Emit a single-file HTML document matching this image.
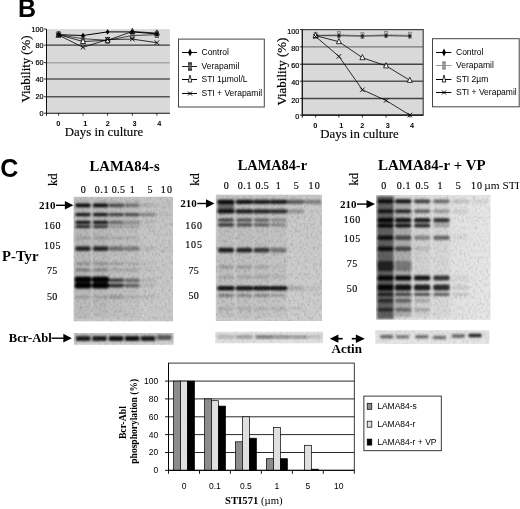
<!DOCTYPE html>
<html><head><meta charset="utf-8"><title>Figure</title>
<style>html,body{margin:0;padding:0;background:#fff;width:520px;height:509px;overflow:hidden}svg{display:block;will-change:transform}</style>
</head><body>
<svg width="520" height="509" viewBox="0 0 520 509">
<rect width="520" height="509" fill="#fff"/>
<text x="18.1" y="17.1" font-family="Liberation Sans, sans-serif" font-size="25" font-weight="bold" text-anchor="start" fill="#000" >B</text>
<rect x="46.5" y="29.1" width="123.4" height="84.1" fill="#d9d9d9"/>
<line x1="46.5" y1="45.1" x2="169.9" y2="45.1" stroke="#111" stroke-width="1"/>
<line x1="46.5" y1="62.7" x2="169.9" y2="62.7" stroke="#a8a8a8" stroke-width="1.4"/>
<line x1="46.5" y1="79.0" x2="169.9" y2="79.0" stroke="#555" stroke-width="1.6"/>
<line x1="46.5" y1="96.8" x2="169.9" y2="96.8" stroke="#555" stroke-width="1.6"/>
<line x1="46.5" y1="29.1" x2="46.5" y2="115.7" stroke="#111" stroke-width="1"/>
<line x1="46.5" y1="113.2" x2="169.9" y2="113.2" stroke="#111" stroke-width="1.1"/>
<line x1="44.0" y1="29.1" x2="46.5" y2="29.1" stroke="#000" stroke-width="0.8"/>
<text x="43.5" y="31.6" font-family="Liberation Sans, sans-serif" font-size="7.2" text-anchor="end" fill="#000" stroke="#000" stroke-width="0.2" >100</text>
<line x1="44.0" y1="45.1" x2="46.5" y2="45.1" stroke="#000" stroke-width="0.8"/>
<text x="43.5" y="47.6" font-family="Liberation Sans, sans-serif" font-size="7.2" text-anchor="end" fill="#000" stroke="#000" stroke-width="0.2" >80</text>
<line x1="44.0" y1="62.7" x2="46.5" y2="62.7" stroke="#000" stroke-width="0.8"/>
<text x="43.5" y="65.2" font-family="Liberation Sans, sans-serif" font-size="7.2" text-anchor="end" fill="#000" stroke="#000" stroke-width="0.2" >60</text>
<line x1="44.0" y1="79.0" x2="46.5" y2="79.0" stroke="#000" stroke-width="0.8"/>
<text x="43.5" y="81.5" font-family="Liberation Sans, sans-serif" font-size="7.2" text-anchor="end" fill="#000" stroke="#000" stroke-width="0.2" >40</text>
<line x1="44.0" y1="96.8" x2="46.5" y2="96.8" stroke="#000" stroke-width="0.8"/>
<text x="43.5" y="99.3" font-family="Liberation Sans, sans-serif" font-size="7.2" text-anchor="end" fill="#000" stroke="#000" stroke-width="0.2" >20</text>
<line x1="44.0" y1="113.2" x2="46.5" y2="113.2" stroke="#000" stroke-width="0.8"/>
<text x="43.5" y="115.7" font-family="Liberation Sans, sans-serif" font-size="7.2" text-anchor="end" fill="#000" stroke="#000" stroke-width="0.2" >0</text>
<line x1="58.6" y1="113.2" x2="58.6" y2="115.7" stroke="#000" stroke-width="0.8"/>
<text x="58.2" y="125.8" font-family="Liberation Sans, sans-serif" font-size="7.3" font-weight="bold" text-anchor="middle" fill="#000" >0</text>
<line x1="83.0" y1="113.2" x2="83.0" y2="115.7" stroke="#000" stroke-width="0.8"/>
<text x="85.3" y="125.8" font-family="Liberation Sans, sans-serif" font-size="7.3" font-weight="bold" text-anchor="middle" fill="#000" >1</text>
<line x1="107.6" y1="113.2" x2="107.6" y2="115.7" stroke="#000" stroke-width="0.8"/>
<text x="107.9" y="125.8" font-family="Liberation Sans, sans-serif" font-size="7.3" font-weight="bold" text-anchor="middle" fill="#000" >2</text>
<line x1="132.3" y1="113.2" x2="132.3" y2="115.7" stroke="#000" stroke-width="0.8"/>
<text x="134.6" y="125.8" font-family="Liberation Sans, sans-serif" font-size="7.3" font-weight="bold" text-anchor="middle" fill="#000" >3</text>
<line x1="156.9" y1="113.2" x2="156.9" y2="115.7" stroke="#000" stroke-width="0.8"/>
<text x="159.2" y="125.8" font-family="Liberation Sans, sans-serif" font-size="7.3" font-weight="bold" text-anchor="middle" fill="#000" >4</text>
<polyline points="58.6,34.7 83.0,38.7 107.6,40.3 132.3,35.5 156.9,34.7" fill="none" stroke="#333" stroke-width="0.9"/>
<rect x="56.800000000000004" y="31.700000000000003" width="3.6" height="6.0" fill="#888" stroke="#444" stroke-width="0.6"/>
<line x1="56.800000000000004" y1="34.7" x2="60.4" y2="34.7" stroke="#333" stroke-width="0.6"/>
<rect x="81.2" y="35.7" width="3.6" height="6.0" fill="#888" stroke="#444" stroke-width="0.6"/>
<line x1="81.2" y1="38.7" x2="84.8" y2="38.7" stroke="#333" stroke-width="0.6"/>
<rect x="105.8" y="37.3" width="3.6" height="6.0" fill="#888" stroke="#444" stroke-width="0.6"/>
<line x1="105.8" y1="40.3" x2="109.39999999999999" y2="40.3" stroke="#333" stroke-width="0.6"/>
<rect x="130.5" y="32.5" width="3.6" height="6.0" fill="#888" stroke="#444" stroke-width="0.6"/>
<line x1="130.5" y1="35.5" x2="134.10000000000002" y2="35.5" stroke="#333" stroke-width="0.6"/>
<rect x="155.1" y="31.700000000000003" width="3.6" height="6.0" fill="#888" stroke="#444" stroke-width="0.6"/>
<line x1="155.1" y1="34.7" x2="158.70000000000002" y2="34.7" stroke="#333" stroke-width="0.6"/>
<polyline points="58.6,34.7 83.0,41.5 107.6,40.3 132.3,31.5 156.9,33.1" fill="none" stroke="#000" stroke-width="0.8"/>
<path d="M58.6 31.500000000000004L61.1 36.7L56.1 36.7Z" fill="#fff" stroke="#000" stroke-width="0.8"/>
<path d="M83.0 38.3L85.5 43.5L80.5 43.5Z" fill="#fff" stroke="#000" stroke-width="0.8"/>
<path d="M107.6 37.099999999999994L110.1 42.3L105.1 42.3Z" fill="#fff" stroke="#000" stroke-width="0.8"/>
<path d="M132.3 28.3L134.8 33.5L129.8 33.5Z" fill="#fff" stroke="#000" stroke-width="0.8"/>
<path d="M156.9 29.900000000000002L159.4 35.1L154.4 35.1Z" fill="#fff" stroke="#000" stroke-width="0.8"/>
<polyline points="58.6,35.1 83.0,47.3 107.6,39.5 132.3,39.1 156.9,42.7" fill="none" stroke="#000" stroke-width="0.8"/>
<path d="M56.300000000000004 32.800000000000004L60.9 37.4M60.9 32.800000000000004L56.300000000000004 37.4" stroke="#000" stroke-width="0.9"/>
<path d="M80.7 45.00000000000001L85.3 49.6M85.3 45.00000000000001L80.7 49.6" stroke="#000" stroke-width="0.9"/>
<path d="M105.3 37.2L109.89999999999999 41.8M109.89999999999999 37.2L105.3 41.8" stroke="#000" stroke-width="0.9"/>
<path d="M130.0 36.800000000000004L134.60000000000002 41.4M134.60000000000002 36.800000000000004L130.0 41.4" stroke="#000" stroke-width="0.9"/>
<path d="M154.6 40.400000000000006L159.20000000000002 45.0M159.20000000000002 40.400000000000006L154.6 45.0" stroke="#000" stroke-width="0.9"/>
<polyline points="58.6,34.7 83.0,35.5 107.6,31.9 132.3,31.9 156.9,33.9" fill="none" stroke="#000" stroke-width="1.0"/>
<path d="M58.6 32.0L60.5 34.7L58.6 37.400000000000006L56.7 34.7Z" fill="#000"/>
<path d="M83.0 32.8L84.9 35.5L83.0 38.2L81.1 35.5Z" fill="#000"/>
<path d="M107.6 29.200000000000003L109.5 31.900000000000002L107.6 34.6L105.69999999999999 31.900000000000002Z" fill="#000"/>
<path d="M132.3 29.200000000000003L134.20000000000002 31.900000000000002L132.3 34.6L130.4 31.900000000000002Z" fill="#000"/>
<path d="M156.9 31.2L158.8 33.9L156.9 36.6L155.0 33.9Z" fill="#000"/>
<rect x="302.3" y="29.6" width="120.89999999999998" height="85.5" fill="#d9d9d9"/>
<line x1="302.3" y1="46.9" x2="423.2" y2="46.9" stroke="#777" stroke-width="1.4"/>
<line x1="302.3" y1="64.2" x2="423.2" y2="64.2" stroke="#444" stroke-width="1.4"/>
<line x1="302.3" y1="81.2" x2="423.2" y2="81.2" stroke="#555" stroke-width="1.4"/>
<line x1="302.3" y1="98.5" x2="423.2" y2="98.5" stroke="#444" stroke-width="1.4"/>
<rect x="302.3" y="29.6" width="120.89999999999998" height="85.5" fill="none" stroke="#444" stroke-width="1.2"/>
<line x1="302.3" y1="29.6" x2="302.3" y2="117.6" stroke="#111" stroke-width="1"/>
<line x1="302.3" y1="115.1" x2="423.2" y2="115.1" stroke="#111" stroke-width="1.1"/>
<line x1="299.8" y1="29.6" x2="302.3" y2="29.6" stroke="#000" stroke-width="0.8"/>
<text x="299.3" y="33.6" font-family="Liberation Sans, sans-serif" font-size="7.2" text-anchor="end" fill="#000" stroke="#000" stroke-width="0.2" >100</text>
<line x1="299.8" y1="46.9" x2="302.3" y2="46.9" stroke="#000" stroke-width="0.8"/>
<text x="299.3" y="50.9" font-family="Liberation Sans, sans-serif" font-size="7.2" text-anchor="end" fill="#000" stroke="#000" stroke-width="0.2" >80</text>
<line x1="299.8" y1="64.2" x2="302.3" y2="64.2" stroke="#000" stroke-width="0.8"/>
<text x="299.3" y="68.2" font-family="Liberation Sans, sans-serif" font-size="7.2" text-anchor="end" fill="#000" stroke="#000" stroke-width="0.2" >60</text>
<line x1="299.8" y1="81.2" x2="302.3" y2="81.2" stroke="#000" stroke-width="0.8"/>
<text x="299.3" y="85.2" font-family="Liberation Sans, sans-serif" font-size="7.2" text-anchor="end" fill="#000" stroke="#000" stroke-width="0.2" >40</text>
<line x1="299.8" y1="98.5" x2="302.3" y2="98.5" stroke="#000" stroke-width="0.8"/>
<text x="299.3" y="102.5" font-family="Liberation Sans, sans-serif" font-size="7.2" text-anchor="end" fill="#000" stroke="#000" stroke-width="0.2" >20</text>
<line x1="299.8" y1="115.1" x2="302.3" y2="115.1" stroke="#000" stroke-width="0.8"/>
<text x="299.3" y="119.1" font-family="Liberation Sans, sans-serif" font-size="7.2" text-anchor="end" fill="#000" stroke="#000" stroke-width="0.2" >0</text>
<line x1="315.6" y1="115.1" x2="315.6" y2="117.6" stroke="#000" stroke-width="0.8"/>
<text x="315.3" y="127.69999999999999" font-family="Liberation Sans, sans-serif" font-size="7.3" font-weight="bold" text-anchor="middle" fill="#000" >0</text>
<line x1="338.9" y1="115.1" x2="338.9" y2="117.6" stroke="#000" stroke-width="0.8"/>
<text x="341.2" y="127.69999999999999" font-family="Liberation Sans, sans-serif" font-size="7.3" font-weight="bold" text-anchor="middle" fill="#000" >1</text>
<line x1="362.4" y1="115.1" x2="362.4" y2="117.6" stroke="#000" stroke-width="0.8"/>
<text x="362.4" y="127.69999999999999" font-family="Liberation Sans, sans-serif" font-size="7.3" font-weight="bold" text-anchor="middle" fill="#000" >2</text>
<line x1="386.1" y1="115.1" x2="386.1" y2="117.6" stroke="#000" stroke-width="0.8"/>
<text x="387.8" y="127.69999999999999" font-family="Liberation Sans, sans-serif" font-size="7.3" font-weight="bold" text-anchor="middle" fill="#000" >3</text>
<line x1="409.8" y1="115.1" x2="409.8" y2="117.6" stroke="#000" stroke-width="0.8"/>
<text x="412.0" y="127.69999999999999" font-family="Liberation Sans, sans-serif" font-size="7.3" font-weight="bold" text-anchor="middle" fill="#000" >4</text>
<polyline points="315.6,35.2 338.9,34.4 362.4,35.7 386.1,34.4 409.8,35.2" fill="none" stroke="#888" stroke-width="0.9" stroke-dasharray="2,1"/>
<rect x="314.1" y="32.222500000000004" width="3.0" height="6.0" fill="#c8c8c8" stroke="#777" stroke-width="0.7"/>
<line x1="314.1" y1="35.222500000000004" x2="317.1" y2="35.222500000000004" stroke="#777" stroke-width="0.6"/>
<rect x="337.4" y="31.3575" width="3.0" height="6.0" fill="#c8c8c8" stroke="#777" stroke-width="0.7"/>
<line x1="337.4" y1="34.3575" x2="340.4" y2="34.3575" stroke="#777" stroke-width="0.6"/>
<rect x="360.9" y="32.655" width="3.0" height="6.0" fill="#c8c8c8" stroke="#777" stroke-width="0.7"/>
<line x1="360.9" y1="35.655" x2="363.9" y2="35.655" stroke="#777" stroke-width="0.6"/>
<rect x="384.6" y="31.3575" width="3.0" height="6.0" fill="#c8c8c8" stroke="#777" stroke-width="0.7"/>
<line x1="384.6" y1="34.3575" x2="387.6" y2="34.3575" stroke="#777" stroke-width="0.6"/>
<rect x="408.3" y="32.222500000000004" width="3.0" height="6.0" fill="#c8c8c8" stroke="#777" stroke-width="0.7"/>
<line x1="408.3" y1="35.222500000000004" x2="411.3" y2="35.222500000000004" stroke="#777" stroke-width="0.6"/>
<polyline points="315.6,35.7 338.9,35.7 362.4,36.1 386.1,35.7 409.8,36.1" fill="none" stroke="#222" stroke-width="0.9"/>
<path d="M315.6 33.055L317.20000000000005 35.655L315.6 38.255L314.0 35.655Z" fill="#222"/>
<path d="M338.9 33.055L340.5 35.655L338.9 38.255L337.29999999999995 35.655Z" fill="#222"/>
<path d="M362.4 33.4875L364.0 36.0875L362.4 38.6875L360.79999999999995 36.0875Z" fill="#222"/>
<path d="M386.1 33.055L387.70000000000005 35.655L386.1 38.255L384.5 35.655Z" fill="#222"/>
<path d="M409.8 33.4875L411.40000000000003 36.0875L409.8 38.6875L408.2 36.0875Z" fill="#222"/>
<polyline points="315.6,35.7 338.9,41.7 362.4,57.7 386.1,65.9 409.8,80.3" fill="none" stroke="#000" stroke-width="0.8"/>
<path d="M315.6 32.455L318.1 37.655L313.1 37.655Z" fill="#fff" stroke="#000" stroke-width="0.8"/>
<path d="M338.9 38.51L341.4 43.71L336.4 43.71Z" fill="#fff" stroke="#000" stroke-width="0.8"/>
<path d="M362.4 54.5125L364.9 59.712500000000006L359.9 59.712500000000006Z" fill="#fff" stroke="#000" stroke-width="0.8"/>
<path d="M386.1 62.7L388.6 67.9L383.6 67.9Z" fill="#fff" stroke="#000" stroke-width="0.8"/>
<path d="M409.8 77.14999999999999L412.3 82.35L407.3 82.35Z" fill="#fff" stroke="#000" stroke-width="0.8"/>
<polyline points="315.6,36.5 338.9,56.4 362.4,89.8 386.1,100.5 409.8,115.1" fill="none" stroke="#000" stroke-width="0.8"/>
<path d="M313.3 34.220000000000006L317.90000000000003 38.82M317.90000000000003 34.220000000000006L313.3 38.82" stroke="#000" stroke-width="0.9"/>
<path d="M336.59999999999997 54.115L341.2 58.714999999999996M341.2 54.115L336.59999999999997 58.714999999999996" stroke="#000" stroke-width="0.9"/>
<path d="M360.09999999999997 87.55L364.7 92.14999999999999M364.7 87.55L360.09999999999997 92.14999999999999" stroke="#000" stroke-width="0.9"/>
<path d="M383.8 98.19200000000001L388.40000000000003 102.792M388.40000000000003 98.19200000000001L383.8 102.792" stroke="#000" stroke-width="0.9"/>
<path d="M407.5 112.8L412.1 117.39999999999999M412.1 112.8L407.5 117.39999999999999" stroke="#000" stroke-width="0.9"/>
<text x="0" y="0" font-family="Liberation Serif, serif" font-size="13" text-anchor="middle" fill="#000" stroke="#000" stroke-width="0.2" transform="translate(30,69) rotate(-90)" textLength="67" lengthAdjust="spacingAndGlyphs">Viability (%)</text>
<text x="0" y="0" font-family="Liberation Serif, serif" font-size="13" text-anchor="middle" fill="#000" stroke="#000" stroke-width="0.2" transform="translate(286,71.6) rotate(-90)" textLength="68" lengthAdjust="spacingAndGlyphs">Viability (%)</text>
<text x="104" y="135.7" font-family="Liberation Serif, serif" font-size="13" text-anchor="middle" fill="#000" stroke="#000" stroke-width="0.15" textLength="78.3" lengthAdjust="spacingAndGlyphs">Days in culture</text>
<text x="359.5" y="137.7" font-family="Liberation Serif, serif" font-size="13" text-anchor="middle" fill="#000" stroke="#000" stroke-width="0.15" textLength="78.5" lengthAdjust="spacingAndGlyphs">Days in culture</text>
<rect x="178.5" y="39.1" width="85.80000000000001" height="67.9" fill="#fff" stroke="#444" stroke-width="1"/>
<line x1="182" y1="52.5" x2="197" y2="52.5" stroke="#000" stroke-width="1"/>
<path d="M190.0 48.5L192.0 52.5L190.0 56.5L188.0 52.5Z" fill="#000"/>
<text x="201.5" y="55.4" font-family="Liberation Sans, sans-serif" font-size="8.5" text-anchor="start" fill="#000" >Control</text>
<line x1="182" y1="66.5" x2="197" y2="66.5" stroke="#222" stroke-width="1"/>
<rect x="188.3" y="62.7" width="3.4" height="7.6" fill="#444" stroke="#222" stroke-width="0.6"/>
<line x1="188.3" y1="65.2" x2="191.7" y2="65.2" stroke="#ddd" stroke-width="0.5"/>
<line x1="188.3" y1="67.8" x2="191.7" y2="67.8" stroke="#ddd" stroke-width="0.5"/>
<text x="201.5" y="68.85" font-family="Liberation Sans, sans-serif" font-size="8.5" text-anchor="start" fill="#000" >Verapamil</text>
<line x1="182" y1="79.5" x2="197" y2="79.5" stroke="#000" stroke-width="1"/>
<path d="M190.0 75.0L191.8 82.0L188.2 82.0Z" fill="#fff" stroke="#000" stroke-width="0.8"/>
<text x="201.5" y="82.3" font-family="Liberation Sans, sans-serif" font-size="8.5" text-anchor="start" fill="#000" >STI 1µmol/L</text>
<line x1="182" y1="93.5" x2="197" y2="93.5" stroke="#000" stroke-width="1"/>
<path d="M188.0 91.5L192.0 95.5M192.0 91.5L188.0 95.5" stroke="#000" stroke-width="1"/>
<text x="201.5" y="95.75" font-family="Liberation Sans, sans-serif" font-size="8.5" text-anchor="start" fill="#000" >STI + Verapamil</text>
<rect x="432.5" y="38.7" width="86.70000000000005" height="68.1" fill="#fff" stroke="#444" stroke-width="1"/>
<line x1="436" y1="52.5" x2="451.4" y2="52.5" stroke="#000" stroke-width="1"/>
<path d="M444.0 48.5L446.0 52.5L444.0 56.5L442.0 52.5Z" fill="#000"/>
<text x="456" y="54.6" font-family="Liberation Sans, sans-serif" font-size="8.5" text-anchor="start" fill="#000" >Control</text>
<line x1="436" y1="65.5" x2="451.4" y2="65.5" stroke="#999" stroke-width="1"/>
<rect x="442.3" y="61.7" width="3.4" height="7.6" fill="#888" stroke="#999" stroke-width="0.6"/>
<line x1="442.3" y1="64.2" x2="445.7" y2="64.2" stroke="#ddd" stroke-width="0.5"/>
<line x1="442.3" y1="66.8" x2="445.7" y2="66.8" stroke="#ddd" stroke-width="0.5"/>
<text x="456" y="68.15" font-family="Liberation Sans, sans-serif" font-size="8.5" text-anchor="start" fill="#000" >Verapamil</text>
<line x1="436" y1="79.5" x2="451.4" y2="79.5" stroke="#000" stroke-width="1"/>
<path d="M444.0 75.0L445.8 82.0L442.2 82.0Z" fill="#fff" stroke="#000" stroke-width="0.8"/>
<text x="456" y="81.7" font-family="Liberation Sans, sans-serif" font-size="8.5" text-anchor="start" fill="#000" >STI 2µm</text>
<line x1="436" y1="92.5" x2="451.4" y2="92.5" stroke="#000" stroke-width="1"/>
<path d="M442.0 90.5L446.0 94.5M446.0 90.5L442.0 94.5" stroke="#000" stroke-width="1"/>
<text x="456" y="95.25" font-family="Liberation Sans, sans-serif" font-size="8.5" text-anchor="start" fill="#000" >STI + Verapamil</text>
<defs><filter id="bl" x="-20%" y="-20%" width="140%" height="140%"><feGaussianBlur stdDeviation="0.85 0.85"/></filter><filter id="nzd" x="0" y="0" width="100%" height="100%"><feTurbulence type="fractalNoise" baseFrequency="0.45 0.3" numOctaves="2" seed="7"/><feGaussianBlur stdDeviation="0.4"/><feColorMatrix type="matrix" values="0 0 0 0 0  0 0 0 0 0  0 0 0 0 0  2 0 0 0 -0.9"/></filter><filter id="nzl" x="0" y="0" width="100%" height="100%"><feTurbulence type="fractalNoise" baseFrequency="0.45 0.3" numOctaves="2" seed="19"/><feGaussianBlur stdDeviation="0.4"/><feColorMatrix type="matrix" values="0 0 0 0 1  0 0 0 0 1  0 0 0 0 1  2 0 0 0 -0.9"/></filter></defs>
<text x="0.2" y="177" font-family="Liberation Sans, sans-serif" font-size="25" font-weight="bold" text-anchor="start" fill="#000" >C</text>
<text x="124.6" y="170.8" font-family="Liberation Serif, serif" font-size="14.5" font-weight="bold" text-anchor="middle" fill="#000" textLength="70" lengthAdjust="spacingAndGlyphs">LAMA84-s</text>
<text x="272.4" y="169.8" font-family="Liberation Serif, serif" font-size="14.3" font-weight="bold" text-anchor="middle" fill="#000" textLength="69.2" lengthAdjust="spacingAndGlyphs">LAMA84-r</text>
<text x="431.8" y="170" font-family="Liberation Serif, serif" font-size="14.3" font-weight="bold" text-anchor="middle" fill="#000" textLength="107.5" lengthAdjust="spacingAndGlyphs">LAMA84-r + VP</text>
<text x="0" y="0" font-family="Liberation Serif, serif" font-size="12" text-anchor="middle" fill="#000" stroke="#000" stroke-width="0.15" transform="translate(57.0,179.7) rotate(-90)" textLength="12.6" lengthAdjust="spacingAndGlyphs">kd</text>
<text x="0" y="0" font-family="Liberation Serif, serif" font-size="12" text-anchor="middle" fill="#000" stroke="#000" stroke-width="0.15" transform="translate(198.9,179.4) rotate(-90)" textLength="12.6" lengthAdjust="spacingAndGlyphs">kd</text>
<text x="0" y="0" font-family="Liberation Serif, serif" font-size="12" text-anchor="middle" fill="#000" stroke="#000" stroke-width="0.15" transform="translate(358.3,179.2) rotate(-90)" textLength="12.6" lengthAdjust="spacingAndGlyphs">kd</text>
<text x="83.2" y="193.2" font-family="Liberation Serif, serif" font-size="10" text-anchor="middle" fill="#000" stroke="#000" stroke-width="0.15" >0</text>
<text x="101.9" y="193.2" font-family="Liberation Serif, serif" font-size="10" text-anchor="middle" fill="#000" stroke="#000" stroke-width="0.15" letter-spacing="0.6">0.1</text>
<text x="118.5" y="193.2" font-family="Liberation Serif, serif" font-size="10" text-anchor="middle" fill="#000" stroke="#000" stroke-width="0.15" letter-spacing="0.4">0.5</text>
<text x="132.3" y="193.2" font-family="Liberation Serif, serif" font-size="10" text-anchor="middle" fill="#000" stroke="#000" stroke-width="0.15" >1</text>
<text x="150.0" y="193.2" font-family="Liberation Serif, serif" font-size="10" text-anchor="middle" fill="#000" stroke="#000" stroke-width="0.15" >5</text>
<text x="166.9" y="193.2" font-family="Liberation Serif, serif" font-size="10" text-anchor="middle" fill="#000" stroke="#000" stroke-width="0.15" letter-spacing="1.2">10</text>
<text x="226.3" y="189.1" font-family="Liberation Serif, serif" font-size="10" text-anchor="middle" fill="#000" stroke="#000" stroke-width="0.15" >0</text>
<text x="244.9" y="189.1" font-family="Liberation Serif, serif" font-size="10" text-anchor="middle" fill="#000" stroke="#000" stroke-width="0.15" letter-spacing="0.6">0.1</text>
<text x="262.4" y="189.1" font-family="Liberation Serif, serif" font-size="10" text-anchor="middle" fill="#000" stroke="#000" stroke-width="0.15" letter-spacing="0.4">0.5</text>
<text x="278.2" y="189.1" font-family="Liberation Serif, serif" font-size="10" text-anchor="middle" fill="#000" stroke="#000" stroke-width="0.15" >1</text>
<text x="296.2" y="189.1" font-family="Liberation Serif, serif" font-size="10" text-anchor="middle" fill="#000" stroke="#000" stroke-width="0.15" >5</text>
<text x="314.7" y="189.1" font-family="Liberation Serif, serif" font-size="10" text-anchor="middle" fill="#000" stroke="#000" stroke-width="0.15" letter-spacing="1.2">10</text>
<text x="383.7" y="189.1" font-family="Liberation Serif, serif" font-size="10" text-anchor="middle" fill="#000" stroke="#000" stroke-width="0.15" >0</text>
<text x="404.0" y="189.1" font-family="Liberation Serif, serif" font-size="10" text-anchor="middle" fill="#000" stroke="#000" stroke-width="0.15" letter-spacing="0.6">0.1</text>
<text x="422.3" y="189.1" font-family="Liberation Serif, serif" font-size="10" text-anchor="middle" fill="#000" stroke="#000" stroke-width="0.15" letter-spacing="0.4">0.5</text>
<text x="440.0" y="189.1" font-family="Liberation Serif, serif" font-size="10" text-anchor="middle" fill="#000" stroke="#000" stroke-width="0.15" >1</text>
<text x="458.2" y="189.1" font-family="Liberation Serif, serif" font-size="10" text-anchor="middle" fill="#000" stroke="#000" stroke-width="0.15" >5</text>
<text x="477.1" y="189.1" font-family="Liberation Serif, serif" font-size="10" text-anchor="middle" fill="#000" stroke="#000" stroke-width="0.15" letter-spacing="1.2">10</text>
<text x="484.2" y="189.1" font-family="Liberation Serif, serif" font-size="10.5" text-anchor="start" fill="#000" textLength="35.2" lengthAdjust="spacingAndGlyphs">µm STI</text>
<text x="55.5" y="209.0" font-family="Liberation Serif, serif" font-size="11" font-weight="bold" text-anchor="end" fill="#000" >210</text>
<line x1="56.0" y1="205.3" x2="65.4" y2="205.3" stroke="#000" stroke-width="1.4"/>
<path d="M73.4 205.3L64.9 201.10000000000002L64.9 209.5Z" fill="#000"/>
<text x="52.6" y="229.3" font-family="Liberation Serif, serif" font-size="10" text-anchor="middle" fill="#000" stroke="#000" stroke-width="0.15" letter-spacing="0.8">160</text>
<text x="52.6" y="249.3" font-family="Liberation Serif, serif" font-size="10" text-anchor="middle" fill="#000" stroke="#000" stroke-width="0.15" letter-spacing="0.8">105</text>
<text x="52.35" y="274.1" font-family="Liberation Serif, serif" font-size="10" text-anchor="middle" fill="#000" stroke="#000" stroke-width="0.15" letter-spacing="0.3">75</text>
<text x="52.35" y="299.6" font-family="Liberation Serif, serif" font-size="10" text-anchor="middle" fill="#000" stroke="#000" stroke-width="0.15" letter-spacing="0.3">50</text>
<text x="196.8" y="207.2" font-family="Liberation Serif, serif" font-size="11" font-weight="bold" text-anchor="end" fill="#000" >210</text>
<line x1="197.3" y1="203.5" x2="206.5" y2="203.5" stroke="#000" stroke-width="1.4"/>
<path d="M214.5 203.5L206.0 199.3L206.0 207.7Z" fill="#000"/>
<text x="194.0" y="228.9" font-family="Liberation Serif, serif" font-size="10" text-anchor="middle" fill="#000" stroke="#000" stroke-width="0.15" letter-spacing="0.8">160</text>
<text x="194.0" y="247.8" font-family="Liberation Serif, serif" font-size="10" text-anchor="middle" fill="#000" stroke="#000" stroke-width="0.15" letter-spacing="0.8">105</text>
<text x="193.75" y="273.6" font-family="Liberation Serif, serif" font-size="10" text-anchor="middle" fill="#000" stroke="#000" stroke-width="0.15" letter-spacing="0.3">75</text>
<text x="193.75" y="299.1" font-family="Liberation Serif, serif" font-size="10" text-anchor="middle" fill="#000" stroke="#000" stroke-width="0.15" letter-spacing="0.3">50</text>
<text x="356.5" y="207.79999999999998" font-family="Liberation Serif, serif" font-size="11" font-weight="bold" text-anchor="end" fill="#000" >210</text>
<line x1="357.0" y1="204.1" x2="367.0" y2="204.1" stroke="#000" stroke-width="1.4"/>
<path d="M375 204.1L366.5 199.9L366.5 208.29999999999998Z" fill="#000"/>
<text x="352.4" y="222.6" font-family="Liberation Serif, serif" font-size="10" text-anchor="middle" fill="#000" stroke="#000" stroke-width="0.15" letter-spacing="0.8">160</text>
<text x="352.4" y="241.5" font-family="Liberation Serif, serif" font-size="10" text-anchor="middle" fill="#000" stroke="#000" stroke-width="0.15" letter-spacing="0.8">105</text>
<text x="352.15" y="266.7" font-family="Liberation Serif, serif" font-size="10" text-anchor="middle" fill="#000" stroke="#000" stroke-width="0.15" letter-spacing="0.3">75</text>
<text x="352.15" y="291.9" font-family="Liberation Serif, serif" font-size="10" text-anchor="middle" fill="#000" stroke="#000" stroke-width="0.15" letter-spacing="0.3">50</text>
<text x="2" y="260.8" font-family="Liberation Serif, serif" font-size="15" font-weight="bold" text-anchor="start" fill="#000" textLength="36.5" lengthAdjust="spacingAndGlyphs">P-Tyr</text>
<text x="8.8" y="342.1" font-family="Liberation Serif, serif" font-size="13" font-weight="bold" text-anchor="start" fill="#000" textLength="43" lengthAdjust="spacingAndGlyphs">Bcr-Abl</text>
<line x1="51.5" y1="338.2" x2="63.8" y2="338.2" stroke="#000" stroke-width="1.4"/>
<path d="M71.8 338.2L63.3 333.8L63.3 342.59999999999997Z" fill="#000"/>
<path d="M329.8 338.7L338.4 334.6L338.4 342.8Z" fill="#000"/><line x1="338" y1="338.7" x2="342.7" y2="338.7" stroke="#000" stroke-width="1.7"/>
<path d="M364.8 338.7L355.9 334.4L355.9 343Z" fill="#000"/><line x1="351.8" y1="338.7" x2="356.3" y2="338.7" stroke="#000" stroke-width="1.7"/>
<text x="346.7" y="353" font-family="Liberation Serif, serif" font-size="12.5" font-weight="bold" text-anchor="middle" fill="#000" textLength="30.5" lengthAdjust="spacingAndGlyphs">Actin</text>
<defs><linearGradient id="bg1" x1="0" y1="0" x2="0" y2="1"><stop offset="0" stop-color="#c4c4c4"/><stop offset="1" stop-color="#c9c9c9"/></linearGradient><clipPath id="cl1"><rect x="73.6" y="196.8" width="99.4" height="124.5"/></clipPath></defs>
<rect x="73.6" y="196.8" width="99.4" height="124.5" fill="url(#bg1)"/>
<g clip-path="url(#cl1)">
<rect x="73.6" y="196.8" width="99.4" height="124.5" filter="url(#nzd)" opacity="0.11"/>
<rect x="73.6" y="196.8" width="99.4" height="124.5" filter="url(#nzl)" opacity="0.11"/>
<g filter="url(#bl)">
<rect x="75.2" y="199" width="15.5" height="119" fill="#000" fill-opacity="0.07"/>
<rect x="92.8" y="199" width="15.5" height="119" fill="#000" fill-opacity="0.07"/>
<rect x="108.5" y="199" width="15.5" height="119" fill="#000" fill-opacity="0.04"/>
<rect x="124.2" y="199" width="15.5" height="119" fill="#000" fill-opacity="0.03"/>
<rect x="75.2" y="203.6" width="15.5" height="3.6" rx="2" fill="#000" fill-opacity="0.95"/>
<rect x="92.8" y="203.6" width="15.5" height="3.6" rx="2" fill="#000" fill-opacity="0.95"/>
<rect x="108.5" y="203.6" width="15.5" height="3.6" rx="2" fill="#000" fill-opacity="0.6"/>
<rect x="124.2" y="203.6" width="15.5" height="3.6" rx="2" fill="#000" fill-opacity="0.4"/>
<rect x="140.1" y="203.6" width="15.5" height="3.6" rx="2" fill="#000" fill-opacity="0.1"/>
<rect x="156.2" y="203.6" width="15.5" height="3.6" rx="2" fill="#000" fill-opacity="0.03"/>
<rect x="75.2" y="212.9" width="15.5" height="3.4" rx="2" fill="#000" fill-opacity="0.9"/>
<rect x="92.8" y="212.9" width="15.5" height="3.4" rx="2" fill="#000" fill-opacity="0.9"/>
<rect x="108.5" y="212.9" width="15.5" height="3.4" rx="2" fill="#000" fill-opacity="0.65"/>
<rect x="124.2" y="212.9" width="15.5" height="3.4" rx="2" fill="#000" fill-opacity="0.6"/>
<rect x="140.1" y="212.9" width="15.5" height="3.4" rx="2" fill="#000" fill-opacity="0.35"/>
<rect x="156.2" y="212.9" width="15.5" height="3.4" rx="2" fill="#000" fill-opacity="0.05"/>
<rect x="75.2" y="220.7" width="15.5" height="3.4" rx="2" fill="#000" fill-opacity="0.9"/>
<rect x="92.8" y="220.7" width="15.5" height="3.4" rx="2" fill="#000" fill-opacity="0.9"/>
<rect x="108.5" y="220.7" width="15.5" height="3.4" rx="2" fill="#000" fill-opacity="0.45"/>
<rect x="124.2" y="220.7" width="15.5" height="3.4" rx="2" fill="#000" fill-opacity="0.25"/>
<rect x="140.1" y="220.7" width="15.5" height="3.4" rx="2" fill="#000" fill-opacity="0.06"/>
<rect x="75.2" y="225.2" width="15.5" height="2.8" rx="2" fill="#000" fill-opacity="0.85"/>
<rect x="92.8" y="225.2" width="15.5" height="2.8" rx="2" fill="#000" fill-opacity="0.75"/>
<rect x="108.5" y="225.2" width="15.5" height="2.8" rx="2" fill="#000" fill-opacity="0.2"/>
<rect x="124.2" y="225.2" width="15.5" height="2.8" rx="2" fill="#000" fill-opacity="0.15"/>
<rect x="140.1" y="225.2" width="15.5" height="2.8" rx="2" fill="#000" fill-opacity="0.03"/>
<rect x="75.2" y="236.5" width="15.5" height="3" rx="2" fill="#000" fill-opacity="0.15"/>
<rect x="92.8" y="236.5" width="15.5" height="3" rx="2" fill="#000" fill-opacity="0.15"/>
<rect x="108.5" y="236.5" width="15.5" height="3" rx="2" fill="#000" fill-opacity="0.12"/>
<rect x="124.2" y="236.5" width="15.5" height="3" rx="2" fill="#000" fill-opacity="0.08"/>
<rect x="75.2" y="246.3" width="15.5" height="4.6" rx="2" fill="#000" fill-opacity="0.8"/>
<rect x="92.8" y="246.3" width="15.5" height="4.6" rx="2" fill="#000" fill-opacity="0.8"/>
<rect x="108.5" y="246.3" width="15.5" height="4.6" rx="2" fill="#000" fill-opacity="0.4"/>
<rect x="124.2" y="246.3" width="15.5" height="4.6" rx="2" fill="#000" fill-opacity="0.35"/>
<rect x="140.1" y="246.3" width="15.5" height="4.6" rx="2" fill="#000" fill-opacity="0.06"/>
<rect x="156.2" y="246.3" width="15.5" height="4.6" rx="2" fill="#000" fill-opacity="0.02"/>
<rect x="75.2" y="261.9" width="15.5" height="3" rx="2" fill="#000" fill-opacity="0.2"/>
<rect x="92.8" y="261.9" width="15.5" height="3" rx="2" fill="#000" fill-opacity="0.2"/>
<rect x="108.5" y="261.9" width="15.5" height="3" rx="2" fill="#000" fill-opacity="0.15"/>
<rect x="124.2" y="261.9" width="15.5" height="3" rx="2" fill="#000" fill-opacity="0.1"/>
<rect x="140.1" y="261.9" width="15.5" height="3" rx="2" fill="#000" fill-opacity="0.05"/>
<rect x="75.2" y="268.4" width="15.5" height="3.2" rx="2" fill="#000" fill-opacity="0.35"/>
<rect x="92.8" y="268.4" width="15.5" height="3.2" rx="2" fill="#000" fill-opacity="0.3"/>
<rect x="108.5" y="268.4" width="15.5" height="3.2" rx="2" fill="#000" fill-opacity="0.15"/>
<rect x="124.2" y="268.4" width="15.5" height="3.2" rx="2" fill="#000" fill-opacity="0.15"/>
<rect x="140.1" y="268.4" width="15.5" height="3.2" rx="2" fill="#000" fill-opacity="0.05"/>
<rect x="74.5" y="276.6" width="17" height="6" rx="2" fill="#000" fill-opacity="1"/>
<rect x="92.0" y="276.6" width="17" height="6" rx="2" fill="#000" fill-opacity="1"/>
<rect x="74.5" y="282.4" width="17" height="6" rx="2" fill="#000" fill-opacity="1"/>
<rect x="92.0" y="282.4" width="17" height="6" rx="2" fill="#000" fill-opacity="1"/>
<rect x="108.5" y="278.5" width="15.5" height="3.6" rx="2" fill="#000" fill-opacity="0.7"/>
<rect x="124.2" y="278.5" width="15.5" height="3.6" rx="2" fill="#000" fill-opacity="0.45"/>
<rect x="140.1" y="278.5" width="15.5" height="3.6" rx="2" fill="#000" fill-opacity="0.1"/>
<rect x="108.5" y="283.8" width="15.5" height="3.6" rx="2" fill="#000" fill-opacity="0.78"/>
<rect x="124.2" y="283.8" width="15.5" height="3.6" rx="2" fill="#000" fill-opacity="0.5"/>
<rect x="140.1" y="283.8" width="15.5" height="3.6" rx="2" fill="#000" fill-opacity="0.08"/>
<rect x="75.2" y="295.5" width="15.5" height="3" rx="2" fill="#000" fill-opacity="0.15"/>
<rect x="92.8" y="295.5" width="15.5" height="3" rx="2" fill="#000" fill-opacity="0.15"/>
<rect x="108.5" y="295.5" width="15.5" height="3" rx="2" fill="#000" fill-opacity="0.25"/>
<rect x="124.2" y="295.5" width="15.5" height="3" rx="2" fill="#000" fill-opacity="0.12"/>
<rect x="140.1" y="295.5" width="15.5" height="3" rx="2" fill="#000" fill-opacity="0.1"/>
</g>
<rect x="73.6" y="196.8" width="99.4" height="124.5" filter="url(#nzd)" opacity="0.055"/>
</g>
<defs><linearGradient id="bg11" x1="0" y1="0" x2="0" y2="1"><stop offset="0" stop-color="#c2c2c2"/><stop offset="1" stop-color="#d2d2d2"/></linearGradient><clipPath id="cl11"><rect x="73.8" y="333" width="99.8" height="11.800000000000011"/></clipPath></defs>
<rect x="73.8" y="333" width="99.8" height="11.800000000000011" fill="url(#bg11)"/>
<g clip-path="url(#cl11)">
<rect x="73.8" y="333" width="99.8" height="11.800000000000011" filter="url(#nzd)" opacity="0.11"/>
<rect x="73.8" y="333" width="99.8" height="11.800000000000011" filter="url(#nzl)" opacity="0.11"/>
<g filter="url(#bl)">
<rect x="76.0" y="336.1" width="14.5" height="5" rx="1" fill="#000" fill-opacity="0.85"/>
<rect x="92.3" y="336.1" width="14.5" height="5" rx="1" fill="#000" fill-opacity="0.85"/>
<rect x="108.8" y="336.1" width="14.5" height="5" rx="1" fill="#000" fill-opacity="0.9"/>
<rect x="124.9" y="336.1" width="14.5" height="5" rx="1" fill="#000" fill-opacity="0.9"/>
<rect x="140.8" y="336.1" width="14.5" height="5" rx="1" fill="#000" fill-opacity="0.85"/>
<rect x="156.9" y="335.1" width="14.5" height="5" rx="1" fill="#000" fill-opacity="0.55"/>
</g>
<rect x="73.8" y="333" width="99.8" height="11.800000000000011" filter="url(#nzd)" opacity="0.055"/>
</g>
<defs><linearGradient id="bg2" x1="0" y1="0" x2="0" y2="1"><stop offset="0" stop-color="#c8c8c8"/><stop offset="1" stop-color="#cdcdcd"/></linearGradient><clipPath id="cl2"><rect x="215.8" y="194.7" width="106.19999999999999" height="126.30000000000001"/></clipPath></defs>
<rect x="215.8" y="194.7" width="106.19999999999999" height="126.30000000000001" fill="url(#bg2)"/>
<g clip-path="url(#cl2)">
<rect x="215.8" y="194.7" width="106.19999999999999" height="126.30000000000001" filter="url(#nzd)" opacity="0.11"/>
<rect x="215.8" y="194.7" width="106.19999999999999" height="126.30000000000001" filter="url(#nzl)" opacity="0.11"/>
<g filter="url(#bl)">
<rect x="218.0" y="203" width="16" height="8" fill="#000" fill-opacity="0.45"/>
<rect x="218.0" y="197" width="16" height="121" fill="#000" fill-opacity="0.06"/>
<rect x="236.3" y="197" width="16" height="121" fill="#000" fill-opacity="0.06"/>
<rect x="253.7" y="197" width="16" height="121" fill="#000" fill-opacity="0.05"/>
<rect x="270.5" y="197" width="16" height="121" fill="#000" fill-opacity="0.04"/>
<rect x="217.2" y="199.8" width="17.5" height="4.2" rx="2" fill="#000" fill-opacity="0.95"/>
<rect x="235.6" y="199.8" width="17.5" height="4.2" rx="2" fill="#000" fill-opacity="0.9"/>
<rect x="252.9" y="199.8" width="17.5" height="4.2" rx="2" fill="#000" fill-opacity="0.85"/>
<rect x="269.8" y="199.8" width="17.5" height="4.2" rx="2" fill="#000" fill-opacity="0.85"/>
<rect x="286.6" y="199.8" width="17.5" height="4.2" rx="2" fill="#000" fill-opacity="0.55"/>
<rect x="303.9" y="199.8" width="17.5" height="4.2" rx="2" fill="#000" fill-opacity="0.35"/>
<rect x="217.2" y="209.2" width="17.5" height="4.2" rx="2" fill="#000" fill-opacity="0.9"/>
<rect x="235.6" y="209.2" width="17.5" height="4.2" rx="2" fill="#000" fill-opacity="0.85"/>
<rect x="252.9" y="209.2" width="17.5" height="4.2" rx="2" fill="#000" fill-opacity="0.8"/>
<rect x="269.8" y="209.2" width="17.5" height="4.2" rx="2" fill="#000" fill-opacity="0.75"/>
<rect x="286.6" y="209.2" width="17.5" height="4.2" rx="2" fill="#000" fill-opacity="0.25"/>
<rect x="218.0" y="218.4" width="16" height="3.2" rx="2" fill="#000" fill-opacity="0.7"/>
<rect x="236.3" y="218.4" width="16" height="3.2" rx="2" fill="#000" fill-opacity="0.6"/>
<rect x="253.7" y="218.4" width="16" height="3.2" rx="2" fill="#000" fill-opacity="0.5"/>
<rect x="270.5" y="218.4" width="16" height="3.2" rx="2" fill="#000" fill-opacity="0.3"/>
<rect x="218.0" y="223.3" width="16" height="3.2" rx="2" fill="#000" fill-opacity="0.75"/>
<rect x="236.3" y="223.3" width="16" height="3.2" rx="2" fill="#000" fill-opacity="0.6"/>
<rect x="253.7" y="223.3" width="16" height="3.2" rx="2" fill="#000" fill-opacity="0.5"/>
<rect x="270.5" y="223.3" width="16" height="3.2" rx="2" fill="#000" fill-opacity="0.3"/>
<rect x="218.0" y="247.8" width="16" height="4.6" rx="2" fill="#000" fill-opacity="0.85"/>
<rect x="236.3" y="247.8" width="16" height="4.6" rx="2" fill="#000" fill-opacity="0.8"/>
<rect x="253.7" y="247.8" width="16" height="4.6" rx="2" fill="#000" fill-opacity="0.7"/>
<rect x="270.5" y="247.8" width="16" height="4.6" rx="2" fill="#000" fill-opacity="0.4"/>
<rect x="218.0" y="265.5" width="16" height="3" rx="2" fill="#000" fill-opacity="0.2"/>
<rect x="236.3" y="265.5" width="16" height="3" rx="2" fill="#000" fill-opacity="0.2"/>
<rect x="253.7" y="265.5" width="16" height="3" rx="2" fill="#000" fill-opacity="0.15"/>
<rect x="270.5" y="265.5" width="16" height="3" rx="2" fill="#000" fill-opacity="0.05"/>
<rect x="218.0" y="275.5" width="16" height="3" rx="2" fill="#000" fill-opacity="0.15"/>
<rect x="236.3" y="275.5" width="16" height="3" rx="2" fill="#000" fill-opacity="0.15"/>
<rect x="253.7" y="275.5" width="16" height="3" rx="2" fill="#000" fill-opacity="0.15"/>
<rect x="270.5" y="275.5" width="16" height="3" rx="2" fill="#000" fill-opacity="0.1"/>
<rect x="217.2" y="286.0" width="17.5" height="4.6" rx="2" fill="#000" fill-opacity="0.9"/>
<rect x="235.6" y="286.0" width="17.5" height="4.6" rx="2" fill="#000" fill-opacity="0.88"/>
<rect x="252.9" y="286.0" width="17.5" height="4.6" rx="2" fill="#000" fill-opacity="0.88"/>
<rect x="269.8" y="286.0" width="17.5" height="4.6" rx="2" fill="#000" fill-opacity="0.88"/>
<rect x="286.6" y="286.0" width="17.5" height="4.6" rx="2" fill="#000" fill-opacity="0.15"/>
<rect x="303.9" y="286.0" width="17.5" height="4.6" rx="2" fill="#000" fill-opacity="0.05"/>
<rect x="218.0" y="294.1" width="16" height="3" rx="2" fill="#000" fill-opacity="0.35"/>
<rect x="236.3" y="294.1" width="16" height="3" rx="2" fill="#000" fill-opacity="0.3"/>
<rect x="253.7" y="294.1" width="16" height="3" rx="2" fill="#000" fill-opacity="0.3"/>
<rect x="270.5" y="294.1" width="16" height="3" rx="2" fill="#000" fill-opacity="0.2"/>
<rect x="218.0" y="307.2" width="16" height="3" rx="2" fill="#000" fill-opacity="0.1"/>
<rect x="236.3" y="307.2" width="16" height="3" rx="2" fill="#000" fill-opacity="0.1"/>
<rect x="253.7" y="307.2" width="16" height="3" rx="2" fill="#000" fill-opacity="0.1"/>
<rect x="270.5" y="307.2" width="16" height="3" rx="2" fill="#000" fill-opacity="0.1"/>
<rect x="287.3" y="307.2" width="16" height="3" rx="2" fill="#000" fill-opacity="0.05"/>
</g>
<rect x="215.8" y="194.7" width="106.19999999999999" height="126.30000000000001" filter="url(#nzd)" opacity="0.055"/>
</g>
<defs><linearGradient id="bg12" x1="0" y1="0" x2="0" y2="1"><stop offset="0" stop-color="#dedede"/><stop offset="1" stop-color="#e2e2e2"/></linearGradient><clipPath id="cl12"><rect x="215.3" y="331.8" width="107.69999999999999" height="11.5"/></clipPath></defs>
<rect x="215.3" y="331.8" width="107.69999999999999" height="11.5" fill="url(#bg12)"/>
<g clip-path="url(#cl12)">
<rect x="215.3" y="331.8" width="107.69999999999999" height="11.5" filter="url(#nzd)" opacity="0.08"/>
<rect x="215.3" y="331.8" width="107.69999999999999" height="11.5" filter="url(#nzl)" opacity="0.08"/>
<g filter="url(#bl)">
<rect x="217.5" y="335.2" width="17" height="3.5" rx="1" fill="#000" fill-opacity="0.2"/>
<rect x="235.8" y="335.2" width="17" height="3.5" rx="1" fill="#000" fill-opacity="0.3"/>
<rect x="255.5" y="335.2" width="17" height="3.5" rx="1" fill="#000" fill-opacity="0.45"/>
<rect x="272.5" y="335.2" width="17" height="3.5" rx="1" fill="#000" fill-opacity="0.35"/>
<rect x="289.5" y="335.2" width="17" height="3.5" rx="1" fill="#000" fill-opacity="0.3"/>
<rect x="304.5" y="335.2" width="17" height="3.5" rx="1" fill="#000" fill-opacity="0.15"/>
</g>
<rect x="215.3" y="331.8" width="107.69999999999999" height="11.5" filter="url(#nzd)" opacity="0.040"/>
</g>
<defs><linearGradient id="bg3" x1="0" y1="0" x2="1" y2="0"><stop offset="0" stop-color="#d8d8d8"/><stop offset="1" stop-color="#e6e6e6"/></linearGradient><clipPath id="cl3"><rect x="376" y="195" width="114.5" height="124.80000000000001"/></clipPath></defs>
<rect x="376" y="195" width="114.5" height="124.80000000000001" fill="url(#bg3)"/>
<g clip-path="url(#cl3)">
<rect x="376" y="195" width="114.5" height="124.80000000000001" filter="url(#nzd)" opacity="0.09"/>
<rect x="376" y="195" width="114.5" height="124.80000000000001" filter="url(#nzl)" opacity="0.09"/>
<g filter="url(#bl)">
<rect x="377.2" y="196" width="16.5" height="123" fill="#000" fill-opacity="0.56"/>
<rect x="394.9" y="198" width="16.5" height="119" fill="#000" fill-opacity="0.22"/>
<rect x="413.9" y="198" width="16.5" height="119" fill="#000" fill-opacity="0.06"/>
<rect x="433.2" y="198" width="16.5" height="119" fill="#000" fill-opacity="0.04"/>
<rect x="377.2" y="199.6" width="16.5" height="3.6" rx="2" fill="#000" fill-opacity="0.92"/>
<rect x="394.9" y="199.6" width="16.5" height="3.6" rx="2" fill="#000" fill-opacity="0.9"/>
<rect x="413.9" y="199.6" width="16.5" height="3.6" rx="2" fill="#000" fill-opacity="0.7"/>
<rect x="433.2" y="199.6" width="16.5" height="3.6" rx="2" fill="#000" fill-opacity="0.5"/>
<rect x="452.4" y="199.6" width="16.5" height="3.6" rx="2" fill="#000" fill-opacity="0.15"/>
<rect x="471.8" y="199.6" width="16.5" height="3.6" rx="2" fill="#000" fill-opacity="0.08"/>
<rect x="377.2" y="209.4" width="16.5" height="3.6" rx="2" fill="#000" fill-opacity="0.85"/>
<rect x="394.9" y="209.4" width="16.5" height="3.6" rx="2" fill="#000" fill-opacity="0.8"/>
<rect x="413.9" y="209.4" width="16.5" height="3.6" rx="2" fill="#000" fill-opacity="0.55"/>
<rect x="433.2" y="209.4" width="16.5" height="3.6" rx="2" fill="#000" fill-opacity="0.3"/>
<rect x="452.4" y="209.4" width="16.5" height="3.6" rx="2" fill="#000" fill-opacity="0.1"/>
<rect x="377.2" y="217.9" width="16.5" height="4.6" rx="2" fill="#000" fill-opacity="0.95"/>
<rect x="394.9" y="217.9" width="16.5" height="4.6" rx="2" fill="#000" fill-opacity="0.9"/>
<rect x="413.9" y="217.9" width="16.5" height="4.6" rx="2" fill="#000" fill-opacity="0.85"/>
<rect x="433.2" y="217.9" width="16.5" height="4.6" rx="2" fill="#000" fill-opacity="0.75"/>
<rect x="377.2" y="223.8" width="16.5" height="3.6" rx="2" fill="#000" fill-opacity="0.95"/>
<rect x="394.9" y="223.8" width="16.5" height="3.6" rx="2" fill="#000" fill-opacity="0.9"/>
<rect x="413.9" y="223.8" width="16.5" height="3.6" rx="2" fill="#000" fill-opacity="0.8"/>
<rect x="433.2" y="223.8" width="16.5" height="3.6" rx="2" fill="#000" fill-opacity="0.25"/>
<rect x="377.2" y="235.5" width="16.5" height="4.6" rx="2" fill="#000" fill-opacity="0.85"/>
<rect x="394.9" y="235.5" width="16.5" height="4.6" rx="2" fill="#000" fill-opacity="0.6"/>
<rect x="413.9" y="235.5" width="16.5" height="4.6" rx="2" fill="#000" fill-opacity="0.35"/>
<rect x="433.2" y="235.5" width="16.5" height="4.6" rx="2" fill="#000" fill-opacity="0.5"/>
<rect x="452.4" y="235.5" width="16.5" height="4.6" rx="2" fill="#000" fill-opacity="0.06"/>
<rect x="377.2" y="246.6" width="16.5" height="4.4" rx="2" fill="#000" fill-opacity="0.85"/>
<rect x="394.9" y="246.6" width="16.5" height="4.4" rx="2" fill="#000" fill-opacity="0.6"/>
<rect x="413.9" y="246.6" width="16.5" height="4.4" rx="2" fill="#000" fill-opacity="0.1"/>
<rect x="377.2" y="261.0" width="16.5" height="10" rx="2" fill="#000" fill-opacity="0.65"/>
<rect x="394.9" y="261.0" width="16.5" height="10" rx="2" fill="#000" fill-opacity="0.3"/>
<rect x="377.2" y="275.5" width="16.5" height="5" rx="2" fill="#000" fill-opacity="0.95"/>
<rect x="394.9" y="275.5" width="16.5" height="5" rx="2" fill="#000" fill-opacity="0.95"/>
<rect x="413.9" y="275.5" width="16.5" height="5" rx="2" fill="#000" fill-opacity="0.9"/>
<rect x="433.2" y="275.5" width="16.5" height="5" rx="2" fill="#000" fill-opacity="0.75"/>
<rect x="452.4" y="275.5" width="16.5" height="5" rx="2" fill="#000" fill-opacity="0.06"/>
<rect x="377.2" y="284.4" width="16.5" height="6" rx="2" fill="#000" fill-opacity="0.95"/>
<rect x="394.9" y="284.4" width="16.5" height="6" rx="2" fill="#000" fill-opacity="0.9"/>
<rect x="413.9" y="284.4" width="16.5" height="6" rx="2" fill="#000" fill-opacity="0.85"/>
<rect x="433.2" y="284.4" width="16.5" height="6" rx="2" fill="#000" fill-opacity="0.8"/>
<rect x="452.4" y="284.4" width="16.5" height="6" rx="2" fill="#000" fill-opacity="0.08"/>
<rect x="377.2" y="292.7" width="16.5" height="3.4" rx="2" fill="#000" fill-opacity="0.7"/>
<rect x="394.9" y="292.7" width="16.5" height="3.4" rx="2" fill="#000" fill-opacity="0.6"/>
<rect x="413.9" y="292.7" width="16.5" height="3.4" rx="2" fill="#000" fill-opacity="0.6"/>
<rect x="433.2" y="292.7" width="16.5" height="3.4" rx="2" fill="#000" fill-opacity="0.55"/>
<rect x="452.4" y="292.7" width="16.5" height="3.4" rx="2" fill="#000" fill-opacity="0.12"/>
<rect x="377.2" y="299.1" width="16.5" height="3.4" rx="2" fill="#000" fill-opacity="0.6"/>
<rect x="394.9" y="299.1" width="16.5" height="3.4" rx="2" fill="#000" fill-opacity="0.45"/>
<rect x="413.9" y="299.1" width="16.5" height="3.4" rx="2" fill="#000" fill-opacity="0.2"/>
<rect x="377.2" y="308.0" width="16.5" height="3.4" rx="2" fill="#000" fill-opacity="0.6"/>
<rect x="394.9" y="308.0" width="16.5" height="3.4" rx="2" fill="#000" fill-opacity="0.4"/>
<rect x="413.9" y="308.0" width="16.5" height="3.4" rx="2" fill="#000" fill-opacity="0.2"/>
</g>
<rect x="376" y="195" width="114.5" height="124.80000000000001" filter="url(#nzd)" opacity="0.045"/>
</g>
<defs><linearGradient id="bg13" x1="0" y1="0" x2="0" y2="1"><stop offset="0" stop-color="#e0e0e0"/><stop offset="1" stop-color="#e6e6e6"/></linearGradient><clipPath id="cl13"><rect x="375.3" y="330.3" width="114.0" height="13.599999999999966"/></clipPath></defs>
<rect x="375.3" y="330.3" width="114.0" height="13.599999999999966" fill="url(#bg13)"/>
<g clip-path="url(#cl13)">
<rect x="375.3" y="330.3" width="114.0" height="13.599999999999966" filter="url(#nzd)" opacity="0.08"/>
<rect x="375.3" y="330.3" width="114.0" height="13.599999999999966" filter="url(#nzl)" opacity="0.08"/>
<g filter="url(#bl)">
<rect x="380.2" y="335.0" width="13" height="3.4" rx="1" fill="#000" fill-opacity="0.55"/>
<rect x="396.0" y="335.0" width="13" height="3.4" rx="1" fill="#000" fill-opacity="0.45"/>
<rect x="415.4" y="335.0" width="13" height="3.4" rx="1" fill="#000" fill-opacity="0.5"/>
<rect x="433.0" y="335.8" width="13" height="3.4" rx="1" fill="#000" fill-opacity="0.5"/>
<rect x="451.8" y="334.3" width="13" height="3.4" rx="1" fill="#000" fill-opacity="0.55"/>
<rect x="468.5" y="333.8" width="13" height="3.4" rx="1" fill="#000" fill-opacity="0.85"/>
</g>
<rect x="375.3" y="330.3" width="114.0" height="13.599999999999966" filter="url(#nzd)" opacity="0.040"/>
</g>
<rect x="168.5" y="363.1" width="185.8" height="107.19999999999999" fill="#fff" stroke="#222" stroke-width="0.9"/>
<line x1="168.5" y1="452.5" x2="354.3" y2="452.5" stroke="#111" stroke-width="0.9"/>
<line x1="168.5" y1="434.6" x2="354.3" y2="434.6" stroke="#111" stroke-width="0.9"/>
<line x1="168.5" y1="416.8" x2="354.3" y2="416.8" stroke="#111" stroke-width="0.9"/>
<line x1="168.5" y1="398.9" x2="354.3" y2="398.9" stroke="#111" stroke-width="0.9"/>
<line x1="168.5" y1="381.1" x2="354.3" y2="381.1" stroke="#111" stroke-width="0.9"/>
<line x1="165.0" y1="470.3" x2="168.5" y2="470.3" stroke="#000" stroke-width="0.9"/>
<text x="158.2" y="473.3" font-family="Liberation Sans, sans-serif" font-size="8.5" text-anchor="end" fill="#000" >0</text>
<line x1="165.0" y1="452.5" x2="168.5" y2="452.5" stroke="#000" stroke-width="0.9"/>
<text x="158.2" y="455.46000000000004" font-family="Liberation Sans, sans-serif" font-size="8.5" text-anchor="end" fill="#000" >20</text>
<line x1="165.0" y1="434.6" x2="168.5" y2="434.6" stroke="#000" stroke-width="0.9"/>
<text x="158.2" y="437.62" font-family="Liberation Sans, sans-serif" font-size="8.5" text-anchor="end" fill="#000" >40</text>
<line x1="165.0" y1="416.8" x2="168.5" y2="416.8" stroke="#000" stroke-width="0.9"/>
<text x="158.2" y="419.78000000000003" font-family="Liberation Sans, sans-serif" font-size="8.5" text-anchor="end" fill="#000" >60</text>
<line x1="165.0" y1="398.9" x2="168.5" y2="398.9" stroke="#000" stroke-width="0.9"/>
<text x="158.2" y="401.94000000000005" font-family="Liberation Sans, sans-serif" font-size="8.5" text-anchor="end" fill="#000" >80</text>
<line x1="165.0" y1="381.1" x2="168.5" y2="381.1" stroke="#000" stroke-width="0.9"/>
<text x="158.2" y="384.1" font-family="Liberation Sans, sans-serif" font-size="8.5" text-anchor="end" fill="#000" >100</text>
<rect x="173.5" y="381.1" width="7" height="89.2" fill="#8c8c8c" stroke="#000" stroke-width="0.7"/>
<rect x="180.5" y="381.1" width="7" height="89.2" fill="#e0e0e0" stroke="#000" stroke-width="0.7"/>
<rect x="187.5" y="381.1" width="7" height="89.2" fill="#000" stroke="#000" stroke-width="0.7"/>
<line x1="199.5" y1="470.3" x2="199.5" y2="473.8" stroke="#000" stroke-width="0.9"/>
<text x="184.0" y="488.8" font-family="Liberation Sans, sans-serif" font-size="8.5" text-anchor="middle" fill="#000" >0</text>
<rect x="204.5" y="398.9" width="7" height="71.4" fill="#8c8c8c" stroke="#000" stroke-width="0.7"/>
<rect x="211.5" y="400.7" width="7" height="69.6" fill="#e0e0e0" stroke="#000" stroke-width="0.7"/>
<rect x="218.5" y="406.1" width="7" height="64.2" fill="#000" stroke="#000" stroke-width="0.7"/>
<line x1="230.4" y1="470.3" x2="230.4" y2="473.8" stroke="#000" stroke-width="0.9"/>
<text x="214.9" y="488.8" font-family="Liberation Sans, sans-serif" font-size="8.5" text-anchor="middle" fill="#000" >0.1</text>
<rect x="235.4" y="441.8" width="7" height="28.5" fill="#8c8c8c" stroke="#000" stroke-width="0.7"/>
<rect x="242.4" y="416.8" width="7" height="53.5" fill="#e0e0e0" stroke="#000" stroke-width="0.7"/>
<rect x="249.4" y="438.2" width="7" height="32.1" fill="#000" stroke="#000" stroke-width="0.7"/>
<line x1="261.4" y1="470.3" x2="261.4" y2="473.8" stroke="#000" stroke-width="0.9"/>
<text x="245.9" y="488.8" font-family="Liberation Sans, sans-serif" font-size="8.5" text-anchor="middle" fill="#000" >0.5</text>
<rect x="266.4" y="458.7" width="7" height="11.6" fill="#8c8c8c" stroke="#000" stroke-width="0.7"/>
<rect x="273.4" y="427.5" width="7" height="42.8" fill="#e0e0e0" stroke="#000" stroke-width="0.7"/>
<rect x="280.4" y="458.7" width="7" height="11.6" fill="#000" stroke="#000" stroke-width="0.7"/>
<line x1="292.4" y1="470.3" x2="292.4" y2="473.8" stroke="#000" stroke-width="0.9"/>
<text x="276.9" y="488.8" font-family="Liberation Sans, sans-serif" font-size="8.5" text-anchor="middle" fill="#000" >1</text>
<rect x="304.4" y="445.3" width="7" height="25.0" fill="#e0e0e0" stroke="#000" stroke-width="0.7"/>
<rect x="311.4" y="469.2" width="7" height="1.1" fill="#000" stroke="#000" stroke-width="0.7"/>
<line x1="323.3" y1="470.3" x2="323.3" y2="473.8" stroke="#000" stroke-width="0.9"/>
<text x="307.9" y="488.8" font-family="Liberation Sans, sans-serif" font-size="8.5" text-anchor="middle" fill="#000" >5</text>
<line x1="354.3" y1="470.3" x2="354.3" y2="473.8" stroke="#000" stroke-width="0.9"/>
<text x="338.8" y="488.8" font-family="Liberation Sans, sans-serif" font-size="8.5" text-anchor="middle" fill="#000" >10</text>
<line x1="168.5" y1="470.3" x2="168.5" y2="473.8" stroke="#000" stroke-width="0.9"/>
<line x1="168.5" y1="470.3" x2="354.3" y2="470.3" stroke="#000" stroke-width="1"/>
<line x1="168.5" y1="363.1" x2="168.5" y2="470.3" stroke="#000" stroke-width="1"/>
<text x="0" y="0" font-family="Liberation Serif, serif" font-size="9.5" font-weight="bold" text-anchor="middle" fill="#000" transform="translate(125.5,422.6) rotate(-90)" textLength="33" lengthAdjust="spacingAndGlyphs">Bcr-Abl</text>
<text x="0" y="0" font-family="Liberation Serif, serif" font-size="9.5" font-weight="bold" text-anchor="middle" fill="#000" transform="translate(137.3,421.3) rotate(-90)" textLength="84.8" lengthAdjust="spacingAndGlyphs">phosphorylation (%)</text>
<text x="225" y="504.2" font-family="Liberation Serif, serif" font-size="10" fill="#000" textLength="57.7" lengthAdjust="spacingAndGlyphs"><tspan font-weight="bold">STI571 </tspan>(µm)</text>
<rect x="363.9" y="396.1" width="77.4" height="54.6" fill="#fff" stroke="#222" stroke-width="0.9"/>
<rect x="367.2" y="403.3" width="4.6" height="6" fill="#8c8c8c" stroke="#000" stroke-width="0.7"/>
<text x="377.2" y="409.3" font-family="Liberation Sans, sans-serif" font-size="8.5" text-anchor="start" fill="#000" >LAMA84-s</text>
<rect x="367.2" y="421.2" width="4.6" height="6" fill="#e0e0e0" stroke="#000" stroke-width="0.7"/>
<text x="377.2" y="427.2" font-family="Liberation Sans, sans-serif" font-size="8.5" text-anchor="start" fill="#000" >LAMA84-r</text>
<rect x="367.2" y="439.1" width="4.6" height="6" fill="#000" stroke="#000" stroke-width="0.7"/>
<text x="377.2" y="445.1" font-family="Liberation Sans, sans-serif" font-size="8.5" text-anchor="start" fill="#000" >LAMA84-r + VP</text>
</svg>
</body></html>
